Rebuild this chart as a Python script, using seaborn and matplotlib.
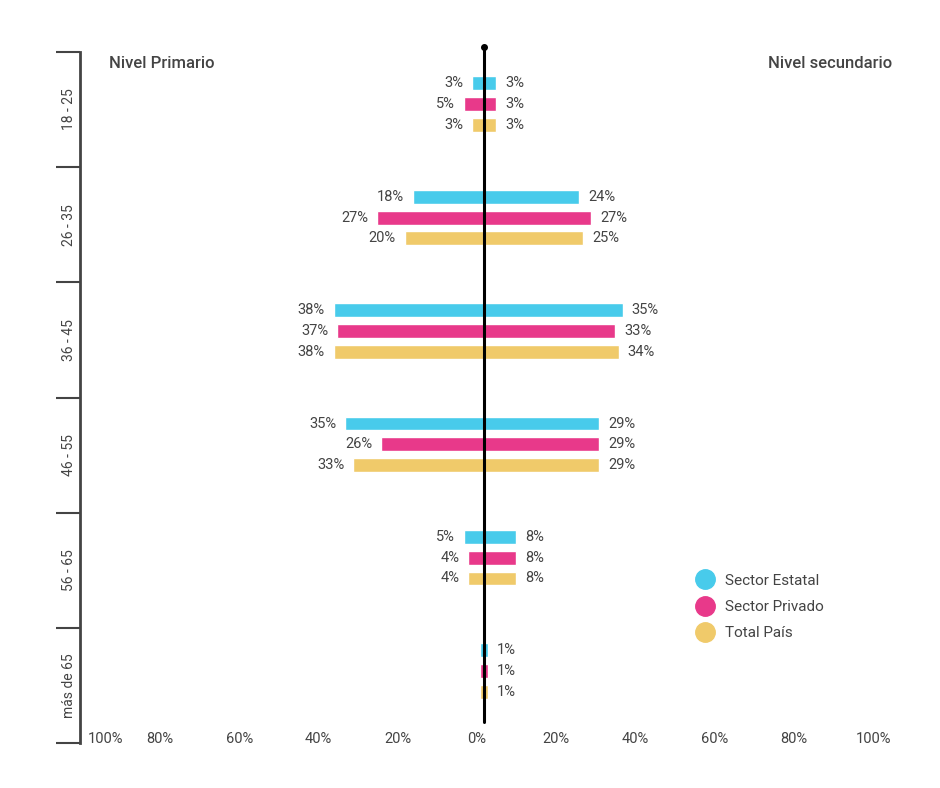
import numpy as np
import pandas as pd
import seaborn as sns
import matplotlib.pyplot as plt
import matplotlib.transforms as mtransforms
from matplotlib.lines import Line2D

edades = ['18 - 25', '26 - 35', '36 - 45', '46 - 55', '56 - 65', 'más de 65']
sectores = ['Sector Estatal', 'Sector Privado', 'Total País']

# nivel primario (lado izquierdo)
prim_estatal = [3, 18, 38, 35, 5, 1]
prim_privado = [5, 27, 37, 26, 4, 1]
prim_total = [3, 20, 38, 33, 4, 1]
prim_etiquetas = [True, True, True, True, True, False]

# nivel secundario (lado derecho)
sec_estatal = [3, 24, 35, 29, 8, 1]
sec_privado = [3, 27, 33, 29, 8, 1]
sec_total = [3, 25, 34, 29, 8, 1]

ticks_x = [-100, -80, -60, -40, -20, 0, 20, 40, 60, 80, 100]

palette = ["#48CBEB", "#E8398A", "#F0CA6A"]
gris = "#444444"

rows = []
for serie_p, serie_s, sector in zip([prim_estatal, prim_privado, prim_total],
                                    [sec_estatal, sec_privado, sec_total], sectores):
    for edad, p, s in zip(edades, serie_p, serie_s):
        rows.append({'edad': edad, 'sector': sector, 'primario': -p, 'secundario': s})
df = pd.DataFrame(rows)

sns.set_style("white")
plt.rcParams['font.family'] = ['Roboto', 'DejaVu Sans']

fig = plt.figure(figsize=(9.4, 7.88), dpi=100)
ax = fig.add_axes([0.085, 0.057, 0.86, 0.877])

sns.barplot(data=df, y='edad', x='primario', hue='sector', order=edades, hue_order=sectores,
            palette=palette, saturation=1, orient='h', width=0.55, gap=0.33, errorbar=None,
            legend=False, ax=ax)
sns.barplot(data=df, y='edad', x='secundario', hue='sector', order=edades, hue_order=sectores,
            palette=palette, saturation=1, orient='h', width=0.55, gap=0.33, errorbar=None,
            legend=False, ax=ax)

for i, cont in enumerate(ax.containers):
    if i < 3:
        vals = [prim_estatal, prim_privado, prim_total][i]
        labs = [f"{v}%" if show else "" for v, show in zip(vals, prim_etiquetas)]
    else:
        vals = [sec_estatal, sec_privado, sec_total][i - 3]
        labs = [f"{v}%" for v in vals]
    ax.bar_label(cont, labels=labs, padding=6.5, fontsize=10.5, color=gris)

y_top, y_bot = -0.46, 5.635
ax.set_xlim(-102, 102)
ax.set_ylim(y_bot, y_top)

# eje central
ax.plot([0, 0], [y_top - 0.04, 5.45], color='black', lw=2.2, clip_on=False, zorder=1)
ax.plot([0], [y_top - 0.04], marker='o', color='black', markersize=4, clip_on=False)

ax.set_xticks(ticks_x)
ax.set_xticklabels([f"{abs(t)}%" for t in ticks_x])
ax.tick_params(axis='x', length=0, pad=-8, labelsize=10.5, labelcolor=gris)
shift = mtransforms.ScaledTranslation(-7 / 100, 0, fig.dpi_scale_trans)
xlabels = ax.get_xticklabels()
for lab in xlabels:
    lab.set_transform(lab.get_transform() + shift)
xlabels[0].set_ha('left')
xlabels[0].set_transform(xlabels[0].get_transform()
                         + mtransforms.ScaledTranslation(7 / 100, 0, fig.dpi_scale_trans))

limites = np.linspace(y_top, y_bot, len(edades) + 1)
ax.set_yticks(limites)
ax.set_yticklabels([])
ax.set_yticks((limites[:-1] + limites[1:]) / 2, minor=True)
ax.set_yticklabels(edades, minor=True, rotation=90, va='center', fontsize=10, color=gris)
ax.tick_params(axis='y', which='major', left=True, length=17, width=1.5, color=gris,
               direction='out')
ax.tick_params(axis='y', which='minor', left=True, length=0, pad=3)

for s in ['top', 'right', 'bottom']:
    ax.spines[s].set_visible(False)
ax.spines['left'].set_color(gris)
ax.spines['left'].set_linewidth(2)

ax.set_xlabel('')
ax.set_ylabel('')

fig.text(109 / 940, 1 - 64 / 788, 'Nivel Primario', fontsize=12, fontweight='medium',
         color=gris, ha='left', va='center')
fig.text(892 / 940, 1 - 64 / 788, 'Nivel secundario', fontsize=12, fontweight='medium',
         color=gris, ha='right', va='center')

handles = [Line2D([], [], marker='o', linestyle='', markersize=14, color=c) for c in palette]
ax.legend(handles, sectores, loc='upper left', bbox_to_anchor=(0.737, 0.265), frameon=False,
          fontsize=11, labelspacing=0.8, handletextpad=0.3, labelcolor=gris)

plt.savefig("out.png", dpi=100)
